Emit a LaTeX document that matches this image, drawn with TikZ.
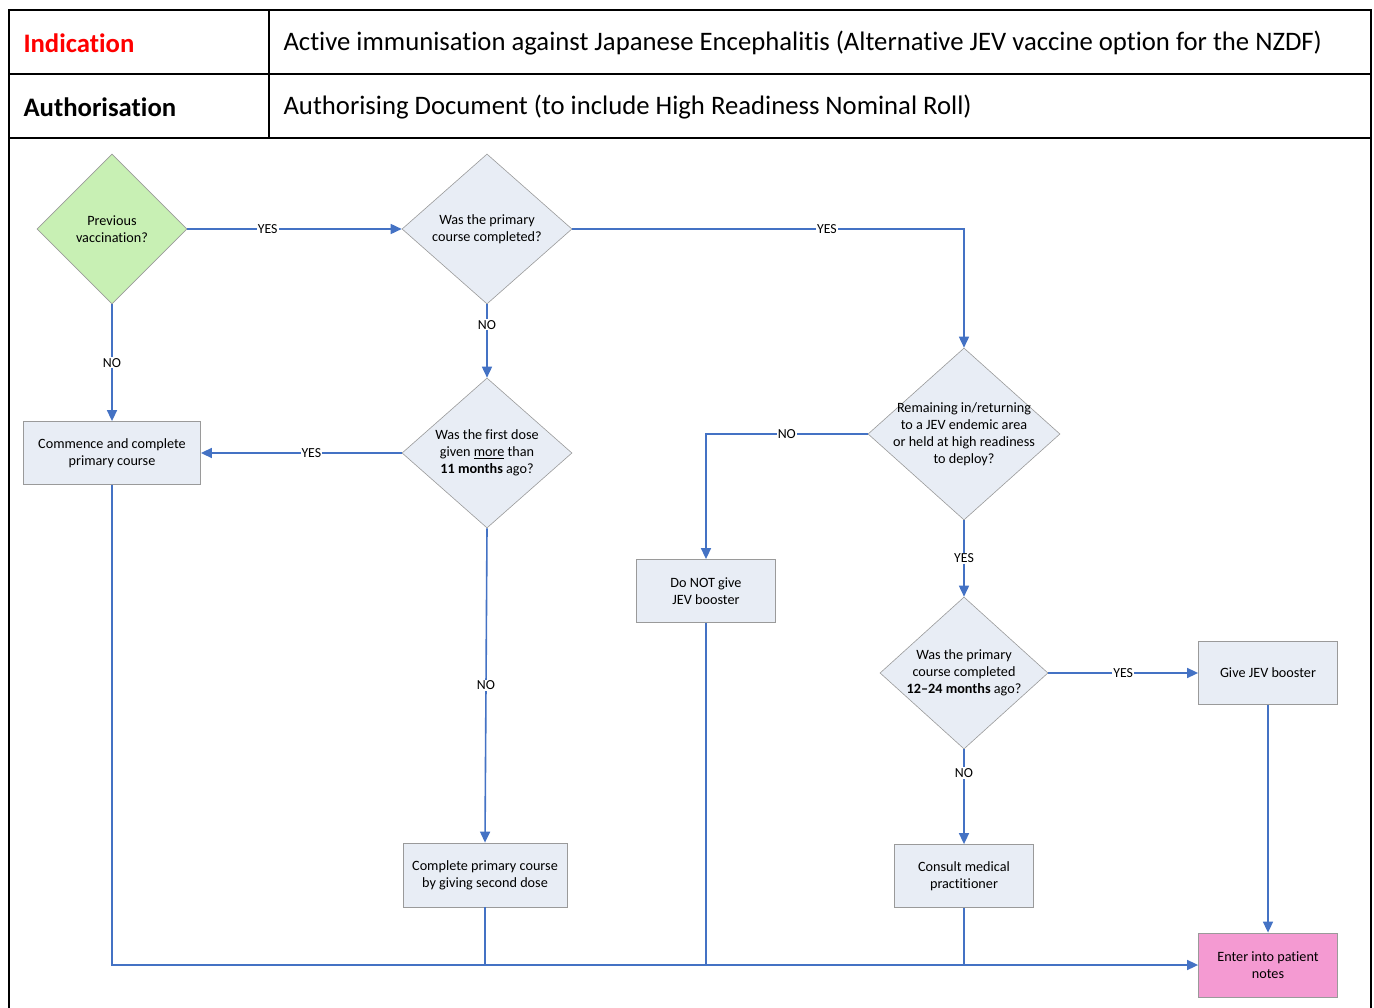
\documentclass[tikz,border=0pt]{standalone}
\usepackage{fontspec}
\setmainfont{Carlito}[Ligatures=NoCommon]
\usetikzlibrary{shapes.geometric,arrows.meta}
\definecolor{flowline}{HTML}{4472C4}
\definecolor{boxfill}{HTML}{E8EDF5}
\definecolor{boxline}{HTML}{9A9A9A}
\definecolor{startfill}{HTML}{C8F0B4}
\definecolor{endfill}{HTML}{F49AD2}
\tikzset{
  decision/.style={diamond,draw=boxline,fill=boxfill,line width=0.6pt,inner sep=0pt},
  action/.style={rectangle,draw=boxline,fill=boxfill,line width=0.8pt,align=center,
    font=\fontsize{14.2}{17}\selectfont},
  qtext/.style={align=center,font=\fontsize{14.2}{17}\selectfont},
  flow/.style={draw=flowline,line width=1.6pt},
  arr/.style={flow,-{Triangle[length=11pt,width=10pt]}},
  lab/.style={fill=white,inner sep=1pt,font=\fontsize{13.8}{15}\selectfont},
  headtext/.style={anchor=west,font=\fontsize{26.7}{30}\selectfont}
}
\begin{document}
\begin{tikzpicture}[x=1pt,y=-1pt]
      \useasboundingbox (0,0) rectangle (1374,1008);

      \draw[line width=2pt] (9,1010) -- (9,10) -- (1371,10) -- (1371,1010);
      \draw[line width=2pt] (9,74) -- (1371,74);
      \draw[line width=2pt] (9,138) -- (1371,138);
      \draw[line width=2pt] (269,10) -- (269,138);

      \path
      (20,43) node[headtext,text=red](ind) {\bfseries Indication}
      (20,107) node[headtext](auth) {\bfseries Authorisation}
      (280,43) node[headtext](indtxt) {Active immunisation against Japanese Encephalitis (Alternative JEV vaccine option for the NZDF)}
      (280,107) node[headtext](authtxt) {Authorising Document (to include High Readiness Nominal Roll)}
      ;

      \path
      (112,229) node[decision,fill=startfill,minimum width=150pt,minimum height=150pt,
        label={[qtext]center:Previous\\vaccination?}](prev) {}
      (487,229) node[decision,minimum width=170pt,minimum height=150pt,
        label={[qtext]center:Was the primary\\course completed?}](done) {}
      (487,453) node[decision,minimum width=170pt,minimum height=150pt,
        label={[qtext]center:Was the first dose\\given \underline{more} than\\\textbf{11 months} ago?}](first) {}
      (964,434) node[decision,minimum width=192pt,minimum height=172pt,
        label={[qtext]center:Remaining in/returning\\to a JEV endemic area\\or held at high readiness\\to deploy?}](remain) {}
      (964,673) node[decision,minimum width=168pt,minimum height=152pt,
        label={[qtext]center:Was the primary\\course completed\\\textbf{12--24 months} ago?}](recent) {}
      ;

      \path
      (112,453) node[action,minimum width=177pt,minimum height=63pt](commence) {Commence and complete\\primary course}
      (706,591) node[action,minimum width=139pt,minimum height=63pt](nobooster) {Do NOT give\\JEV booster}
      (1268,673) node[action,minimum width=139pt,minimum height=63pt](booster) {Give JEV booster}
      (964,876) node[action,minimum width=139pt,minimum height=63pt](consult) {Consult medical\\practitioner}
      (485,875) node[action,minimum width=164pt,minimum height=64pt](second) {Complete primary course\\by giving second dose}
      (1268,965) node[action,fill=endfill,minimum width=139pt,minimum height=64pt](notes) {Enter into patient\\notes}
      ;

      \draw[arr] (prev.east) -- node[lab,pos=0.375] {YES} (done.west);
      \draw[arr] (prev.south) -- node[lab] {NO} (commence.north);
      \draw[arr] (done.east) -- node[lab,pos=0.65] {YES} (done.east -| remain.north) -- (remain.north);
      \draw[arr] (done.south) -- node[lab,pos=0.28] {NO} (first.north);
      \draw[arr] (first.west) -- node[lab,pos=0.45] {YES} (commence.east);
      \draw[arr] (first.south) -- node[lab] {NO} (second.north);
      \draw[arr] (remain.west) -- node[lab] {NO} (remain.west -| nobooster.north) -- (nobooster.north);
      \draw[arr] (remain.south) -- node[lab] {YES} (recent.north);
      \draw[arr] (recent.east) -- node[lab] {YES} (booster.west);
      \draw[arr] (recent.south) -- node[lab,pos=0.25] {NO} (consult.north);
      \draw[arr] (booster.south) -- (notes.north);

      \draw[arr] (commence.south) |- (notes.west);
      \draw[flow] (second.south) -- (second.south |- notes.west);
      \draw[flow] (nobooster.south) -- (nobooster.south |- notes.west);
      \draw[flow] (consult.south) -- (consult.south |- notes.west);
    \end{tikzpicture}
\end{document}
